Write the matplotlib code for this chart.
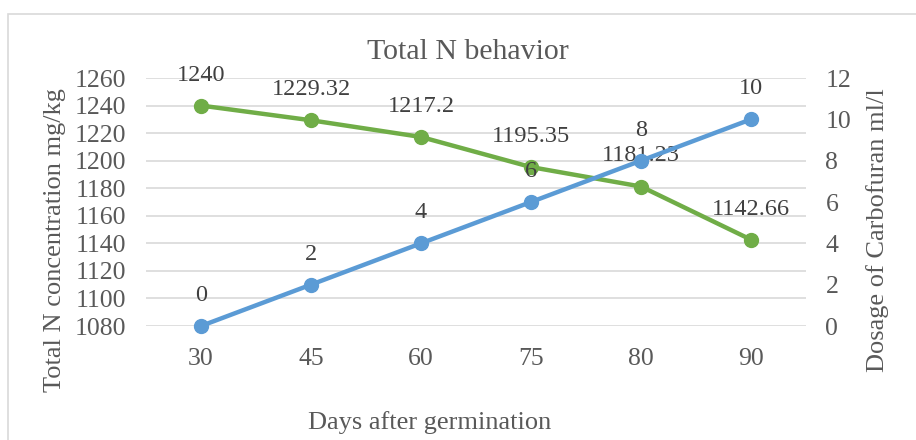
import matplotlib
matplotlib.use("Agg")
import matplotlib.pyplot as plt
from matplotlib.patches import Rectangle

# data
days = ["30", "45", "60", "75", "80", "90"]
total_n = [1240, 1229.32, 1217.2, 1195.35, 1181.23, 1142.66]
dosage = [0, 2, 4, 6, 8, 10]
n_labels = ["1240", "1229.32", "1217.2", "1195.35", "1181.23", "1142.66"]
dose_labels = ["0", "2", "4", "6", "8", "10"]

plt.rcParams['font.family'] = ['Liberation Serif', 'DejaVu Serif']
txt = '#595959'
green = '#70AD47'
blue = '#5B9BD5'

fig = plt.figure(figsize=(9.16, 4.4), dpi=100)
fig.patches.append(Rectangle((8 / 916, -0.05), 1.0, 1 - 14 / 440 + 0.05,
                             transform=fig.transFigure, fill=False,
                             edgecolor='#D9D9D9', lw=1.2))

ax = fig.add_axes([146 / 916, 1 - 326 / 440, 660 / 916, 248 / 440])
ax2 = ax.twinx()

x = list(range(len(days)))
ax.plot(x, total_n, color=green, lw=3.2, marker='o', ms=10, zorder=3, clip_on=False)
ax2.plot(x, dosage, color=blue, lw=3.2, marker='o', ms=10, zorder=3, clip_on=False)

for xi, v, s in zip(x, total_n, n_labels):
    ax.annotate(s, (xi, v), xytext=(0, 22), textcoords='offset points',
                ha='center', va='center', fontsize=17.5, color='#404040')
for xi, v, s in zip(x, dosage, dose_labels):
    ax2.annotate(s, (xi, v), xytext=(0, 22), textcoords='offset points',
                 ha='center', va='center', fontsize=17.5, color='#404040')

ax.set_xlim(-0.5, 5.5)
ax.set_ylim(1080, 1260)
ax.set_yticks(range(1080, 1261, 20))
ax2.set_ylim(0, 12)
ax2.set_yticks(range(0, 13, 2))
ax.set_xticks(x)
ax.set_xticklabels(days)

ax.grid(axis='y', color='#D9D9D9', lw=1.2)
ax.set_axisbelow(True)
for a in (ax, ax2):
    for sp in a.spines.values():
        sp.set_visible(False)
    a.tick_params(length=0, labelsize=18.5, labelcolor=txt)
ax.tick_params(axis='y', pad=14)
ax.tick_params(axis='x', pad=16)
ax2.tick_params(axis='y', pad=14)

fig.text(55 / 916, 1 - 240 / 440, 'Total N concentration mg/kg', rotation=90,
         ha='center', va='center', fontsize=19, color=txt)
fig.text(878 / 916, 1 - 230 / 440, 'Dosage of Carbofuran ml/l', rotation=90,
         ha='center', va='center', fontsize=19, color=txt)
fig.text(430 / 916, 1 - 423 / 440, 'Days after germination',
         ha='center', va='center', fontsize=19, color=txt)
fig.text(468 / 916, 1 - 52 / 440, 'Total N behavior', ha='center', va='center',
         fontsize=21.5, color=txt)

fig.savefig('out.png', dpi=100)
